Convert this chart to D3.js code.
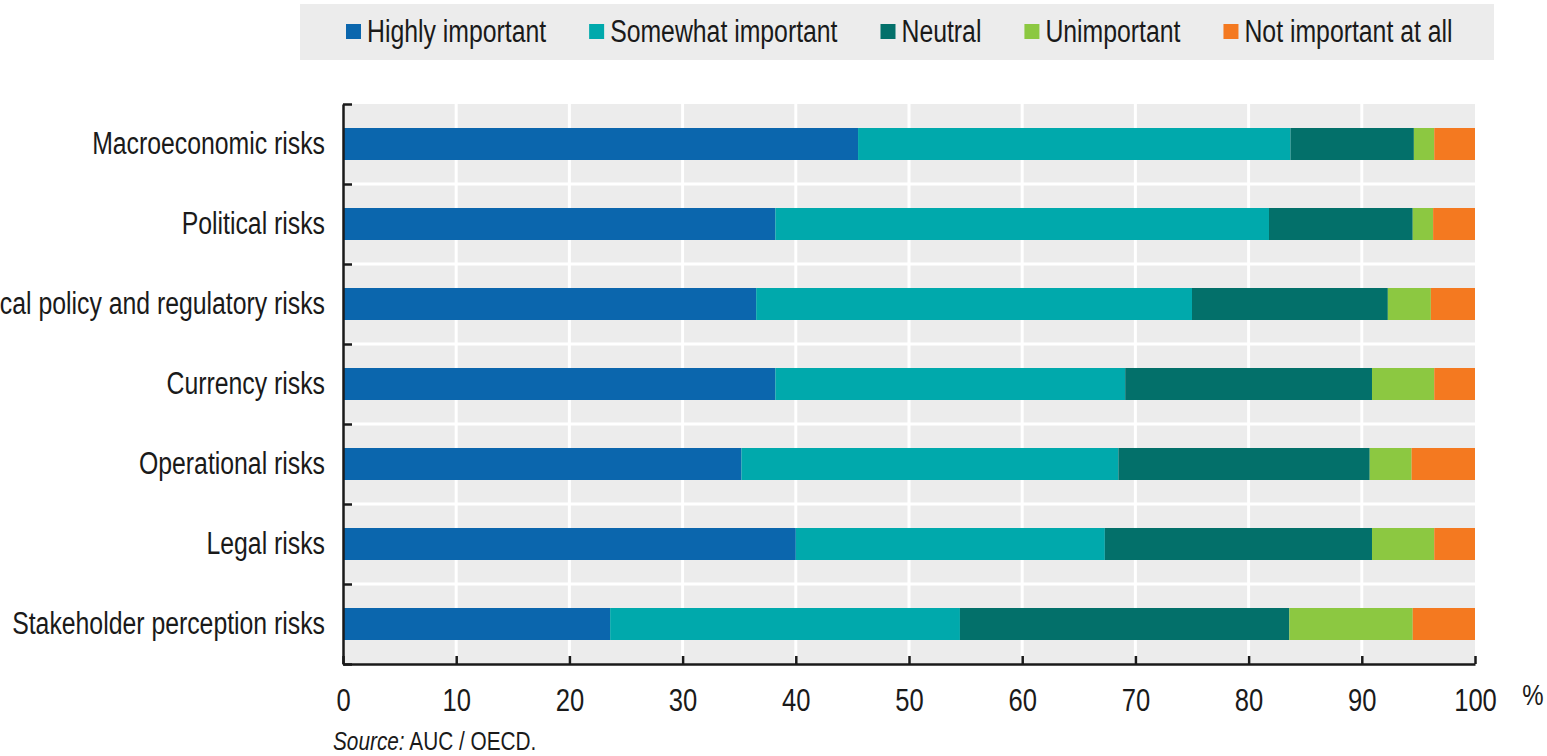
<!DOCTYPE html>
<html>
<head>
<meta charset="utf-8">
<script src="https://cdn.jsdelivr.net/npm/d3@7/dist/d3.min.js"></script>
<style>
  html, body { margin: 0; padding: 0; background: #fff; }
  svg { display: block; }
  text { font-family: "Liberation Sans", Arial, sans-serif; fill: #1a1a1a; }
</style>
</head>
<body>
<svg id="chart" width="1547" height="756"></svg>
<script>
// Importance of risk types, share of respondents (%)
const categories = [
  "Macroeconomic risks",
  "Political risks",
  "Fiscal policy and regulatory risks",
  "Currency risks",
  "Operational risks",
  "Legal risks",
  "Stakeholder perception risks"
];
const seriesNames = ["Highly important", "Somewhat important", "Neutral", "Unimportant", "Not important at all"];
const seriesColors = ["#0b66ad", "#00a9ac", "#03706a", "#8cc841", "#f47920"];

const highlyImportant   = [45.5, 38.2, 36.5, 38.2, 35.2, 40.0, 23.6];
const somewhatImportant = [38.2, 43.6, 38.5, 30.9, 33.3, 27.3, 30.9];
const neutral           = [10.9, 12.7, 17.3, 21.8, 22.2, 23.6, 29.1];
const unimportant       = [ 1.8,  1.8,  3.8,  5.5,  3.7,  5.5, 10.9];
const notImportantAtAll = [ 3.6,  3.7,  3.9,  3.6,  5.6,  3.6,  5.5];

const xTicks = [0, 10, 20, 30, 40, 50, 60, 70, 80, 90, 100];

// Rows for the stack layout
const seriesValues = [highlyImportant, somewhatImportant, neutral, unimportant, notImportantAtAll];
const rows = categories.map((c, i) => {
  const r = { category: c };
  seriesNames.forEach((s, k) => { r[s] = seriesValues[k][i]; });
  return r;
});

const NARROW = 0.8;            // horizontal squeeze for a condensed look
const svg = d3.select("#chart");

const plot = { left: 343, right: 1475, top: 104, bottom: 664 };

const x = d3.scaleLinear().domain([0, 100]).range([plot.left, plot.right]);
const y = d3.scaleBand().domain(categories)
  .range([plot.top, plot.bottom])
  .paddingInner(0.6).paddingOuter(0.3);
const yEdge = d3.scaleLinear().domain([0, categories.length]).range([plot.top, plot.bottom]);

// Plot background
svg.append("rect")
  .attr("x", plot.left).attr("y", plot.top)
  .attr("width", plot.right - plot.left).attr("height", plot.bottom - plot.top)
  .attr("fill", "#ececec");

// White grid: vertical at x ticks, horizontal at category boundaries
const grid = svg.append("g").attr("stroke", "#ffffff").attr("stroke-width", 3);
grid.selectAll("line.v").data(xTicks.filter(t => t > 0 && t < 100)).join("line")
  .attr("class", "v")
  .attr("x1", d => x(d)).attr("x2", d => x(d))
  .attr("y1", plot.top).attr("y2", plot.bottom);
grid.selectAll("line.h").data(d3.range(1, categories.length)).join("line")
  .attr("class", "h")
  .attr("x1", plot.left).attr("x2", plot.right)
  .attr("y1", d => yEdge(d)).attr("y2", d => yEdge(d));

// Stacked bars
const stacked = d3.stack().keys(seriesNames)(rows);
svg.append("g").selectAll("g").data(stacked).join("g")
  .attr("fill", (d, i) => seriesColors[i])
  .selectAll("rect").data(d => d).join("rect")
  .attr("x", d => x(d[0]))
  .attr("width", d => x(d[1]) - x(d[0]))
  .attr("y", d => y(d.data.category))
  .attr("height", y.bandwidth());

// Helper: narrow text placed at (tx, ty)
function narrowText(parent, tx, ty, str, size, anchor) {
  return parent.append("text")
    .attr("transform", `translate(${tx},${ty}) scale(${NARROW},1)`)
    .attr("text-anchor", anchor)
    .attr("dominant-baseline", "central")
    .attr("font-size", size)
    .text(str);
}

// Category labels
const labels = svg.append("g");
categories.forEach(c => {
  narrowText(labels, 325, y(c) + y.bandwidth() / 2, c, 31, "end");
});

// Bottom axis
const xAxis = svg.append("g")
  .attr("transform", `translate(0,${plot.bottom})`)
  .call(d3.axisBottom(x).tickValues(xTicks).tickSize(-8).tickSizeOuter(0).tickFormat(d3.format("d")));
xAxis.select(".domain").attr("stroke", "#1a1a1a").attr("stroke-width", 2.5);
xAxis.selectAll(".tick line").attr("stroke", "#1a1a1a").attr("stroke-width", 2.5);
xAxis.selectAll(".tick text")
  .attr("y", 36).attr("dy", "0.35em")
  .attr("font-size", 32)
  .attr("fill", "#1a1a1a")
  .attr("font-family", "Liberation Sans, Arial, sans-serif")
  .attr("transform", `scale(${NARROW},1)`);

// Left axis with ticks on category boundaries
const yAxis = svg.append("g")
  .attr("transform", `translate(${plot.left},0)`)
  .call(d3.axisRight(yEdge).ticks(categories.length).tickSize(9).tickSizeOuter(0).tickFormat(""));
yAxis.select(".domain").attr("stroke", "#1a1a1a").attr("stroke-width", 2.5);
yAxis.selectAll(".tick line").attr("stroke", "#1a1a1a").attr("stroke-width", 2.5);

// Unit label
narrowText(svg, 1533, 695, "%", 30, "middle");

// Legend
const legend = svg.append("g");
legend.append("rect")
  .attr("x", 300).attr("y", 4).attr("width", 1194).attr("height", 56)
  .attr("fill", "#ececec");
let lx = 346;
seriesNames.forEach((s, i) => {
  legend.append("rect")
    .attr("x", lx).attr("y", 24).attr("width", 15).attr("height", 15)
    .attr("fill", seriesColors[i]);
  const t = narrowText(legend, lx + 21, 32, s, 31, "start");
  lx += 21 + t.node().getComputedTextLength() * NARROW + 43;
});

// Source note
const src = svg.append("text")
  .attr("transform", `translate(333,741) scale(${NARROW},1)`)
  .attr("dominant-baseline", "central")
  .attr("font-size", 26);
src.append("tspan").attr("font-style", "italic").text("Source:");
src.append("tspan").text(" AUC / OECD.");
</script>
</body>
</html>
